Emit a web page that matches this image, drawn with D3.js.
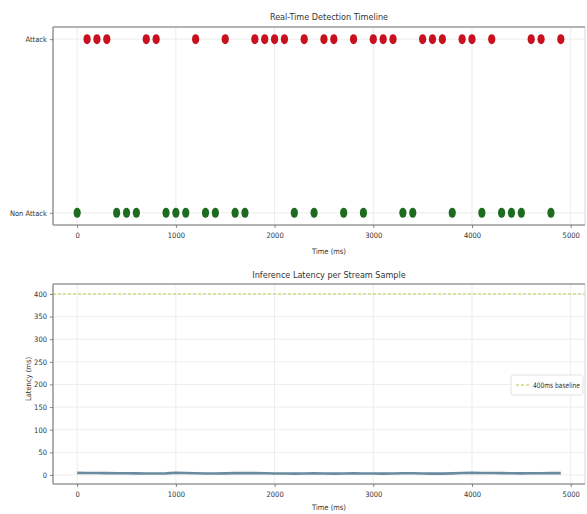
<!DOCTYPE html>
<html>
<head>
<meta charset="utf-8">
<script src="https://cdn.jsdelivr.net/npm/d3@7"></script>
<style>
  html, body { margin: 0; padding: 0; background: #fff; }
  svg text { font-family: "DejaVu Sans Condensed", "Liberation Sans Narrow", "DejaVu Sans", sans-serif; fill: #333; }
</style>
</head>
<body>
<svg id="chart" width="587" height="514"></svg>
<script>
// Stream samples every 100 ms, split by predicted class
const attackTimes = [100, 200, 300, 700, 800, 1200, 1500, 1800, 1900, 2000, 2100, 2300, 2500, 2600,
  2800, 3000, 3100, 3200, 3500, 3600, 3700, 3900, 4000, 4200, 4600, 4700, 4900];
const nonAttackTimes = [0, 400, 500, 600, 900, 1000, 1100, 1300, 1400, 1600, 1700, 2200, 2400, 2700,
  2900, 3300, 3400, 3800, 4100, 4300, 4400, 4500, 4800];
const classLabels = ["Non Attack", "Attack"];

// Per-sample inference latency (ms), sampled at 0..4900 ms
const sampleTimes = d3.range(0, 5000, 100);
const latencyMs = [4.6, 4.4, 4.3, 4.1, 3.9, 3.7, 3.5, 3.3, 3.2, 3.4, 5.0, 4.2, 3.6, 3.3, 3.2, 3.5, 4.0, 4.4,
  4.1, 3.6, 3.3, 3.1, 3.0, 3.2, 3.4, 3.1, 3.0, 3.2, 3.5, 3.3, 3.1, 3.0, 3.2, 3.6, 3.9, 3.3, 3.0, 2.9,
  3.4, 4.3, 4.6, 4.4, 4.2, 4.0, 3.7, 3.5, 3.6, 3.9, 4.2, 4.0];
const baselineMs = 400;
const baselineLabel = "400ms baseline";

const xTicks = [0, 1000, 2000, 3000, 4000, 5000];
const latencyTicks = [0, 50, 100, 150, 200, 250, 300, 350, 400];

const svg = d3.select("#chart");
const left = 53, right = 585;
const top1 = 27, bottom1 = 225;
const top2 = 284, bottom2 = 484;
const gridColor = "#e8e8e8";
const spineColor = "#9a9a9a";

const x1 = d3.scaleLinear().domain([-245, 5145]).range([left, right]);
const y1 = d3.scaleLinear().domain([-0.07, 1.07]).range([bottom1, top1]);
const y2 = d3.scaleLinear().domain([-20, 422]).range([bottom2, top2]);

function drawFrame(top, bottom) {
  const g = svg.append("g");
  g.append("line").attr("x1", right).attr("x2", right).attr("y1", top).attr("y2", bottom)
    .attr("stroke", "#d8d8d8").attr("stroke-width", 1);
  g.append("line").attr("x1", left).attr("x2", right).attr("y1", top).attr("y2", top)
    .attr("stroke", spineColor).attr("stroke-width", 1.6);
  g.append("line").attr("x1", left).attr("x2", left).attr("y1", top).attr("y2", bottom)
    .attr("stroke", spineColor).attr("stroke-width", 1.6);
  g.append("line").attr("x1", left).attr("x2", right).attr("y1", bottom).attr("y2", bottom)
    .attr("stroke", spineColor).attr("stroke-width", 1.6);
}

function styleAxis(g) {
  g.select(".domain").remove();
  g.selectAll(".tick line").attr("stroke", "#666").attr("stroke-width", 0.8);
  g.selectAll(".tick text").style("font-size", "7.5px").attr("fill", "#333");
}

// ---------- Top panel: detection timeline ----------
const grid1 = svg.append("g");
grid1.selectAll("line.v").data(xTicks).join("line")
  .attr("x1", d => x1(d)).attr("x2", d => x1(d)).attr("y1", top1).attr("y2", bottom1)
  .attr("stroke", gridColor).attr("stroke-width", 0.8);
grid1.selectAll("line.h").data([0, 1]).join("line")
  .attr("x1", left).attr("x2", right).attr("y1", d => y1(d)).attr("y2", d => y1(d))
  .attr("stroke", gridColor).attr("stroke-width", 0.8);

svg.append("g").selectAll("ellipse.attack").data(attackTimes).join("ellipse")
  .attr("cx", d => x1(d)).attr("cy", y1(1)).attr("rx", 3.6).attr("ry", 5)
  .attr("fill", "#c8101e");
svg.append("g").selectAll("ellipse.normal").data(nonAttackTimes).join("ellipse")
  .attr("cx", d => x1(d)).attr("cy", y1(0)).attr("rx", 3.6).attr("ry", 5)
  .attr("fill", "#1d6b1f");

drawFrame(top1, bottom1);

svg.append("g").attr("transform", `translate(0,${bottom1})`)
  .call(d3.axisBottom(x1).tickValues(xTicks).tickFormat(d3.format("d")).tickSize(3).tickPadding(5))
  .call(styleAxis);
svg.append("g").attr("transform", `translate(${left},0)`)
  .call(d3.axisLeft(y1).tickValues([0, 1]).tickFormat(d => classLabels[d]).tickSize(3).tickPadding(3))
  .call(styleAxis);

svg.append("text").attr("x", (left + right) / 2 + 10).attr("y", 20).attr("text-anchor", "middle")
  .style("font-size", "9px").text("Real-Time Detection Timeline");
svg.append("text").attr("x", (left + right) / 2 + 10).attr("y", 254).attr("text-anchor", "middle")
  .style("font-size", "7.5px").text("Time (ms)");

// ---------- Bottom panel: inference latency ----------
const x2 = x1.copy();
const grid2 = svg.append("g");
grid2.selectAll("line.v").data(xTicks).join("line")
  .attr("x1", d => x2(d)).attr("x2", d => x2(d)).attr("y1", top2).attr("y2", bottom2)
  .attr("stroke", gridColor).attr("stroke-width", 0.8);
grid2.selectAll("line.h").data(latencyTicks).join("line")
  .attr("x1", left).attr("x2", right).attr("y1", d => y2(d)).attr("y2", d => y2(d))
  .attr("stroke", gridColor).attr("stroke-width", 0.8);

// 400 ms reference line
svg.append("line")
  .attr("x1", left).attr("x2", right).attr("y1", y2(baselineMs)).attr("y2", y2(baselineMs))
  .attr("stroke", "#d2d884").attr("stroke-width", 1.4).attr("stroke-dasharray", "3,2");

const line = d3.line().x((d, i) => x2(sampleTimes[i])).y(d => y2(d));
svg.append("path").datum(latencyMs)
  .attr("d", line).attr("fill", "none")
  .attr("stroke", "#6a8aa0").attr("stroke-width", 2.6).attr("stroke-linejoin", "round");

drawFrame(top2, bottom2);

svg.append("g").attr("transform", `translate(0,${bottom2})`)
  .call(d3.axisBottom(x2).tickValues(xTicks).tickFormat(d3.format("d")).tickSize(3).tickPadding(5))
  .call(styleAxis);
svg.append("g").attr("transform", `translate(${left},0)`)
  .call(d3.axisLeft(y2).tickValues(latencyTicks).tickSize(3).tickPadding(3))
  .call(styleAxis);

svg.append("text").attr("x", (left + right) / 2 + 10).attr("y", 278).attr("text-anchor", "middle")
  .style("font-size", "9px").text("Inference Latency per Stream Sample");
svg.append("text").attr("x", (left + right) / 2 + 10).attr("y", 510).attr("text-anchor", "middle")
  .style("font-size", "7.5px").text("Time (ms)");
svg.append("text").attr("transform", `translate(31,${(top2 + bottom2) / 2 - 5}) rotate(-90)`)
  .attr("text-anchor", "middle").style("font-size", "7.5px").text("Latency (ms)");

// Legend
const lg = svg.append("g").attr("transform", "translate(511,375)");
lg.append("rect").attr("width", 72).attr("height", 20).attr("rx", 2)
  .attr("fill", "#fff").attr("fill-opacity", 0.85).attr("stroke", "#dcdcdc").attr("stroke-width", 0.8);
lg.append("line").attr("x1", 5).attr("x2", 18).attr("y1", 10).attr("y2", 10)
  .attr("stroke", "#d2d884").attr("stroke-width", 1.4).attr("stroke-dasharray", "3,2");
lg.append("text").attr("x", 22).attr("y", 13).style("font-size", "7.5px")
  .attr("textLength", 47).attr("lengthAdjust", "spacingAndGlyphs").text(baselineLabel);
</script>
</body>
</html>
